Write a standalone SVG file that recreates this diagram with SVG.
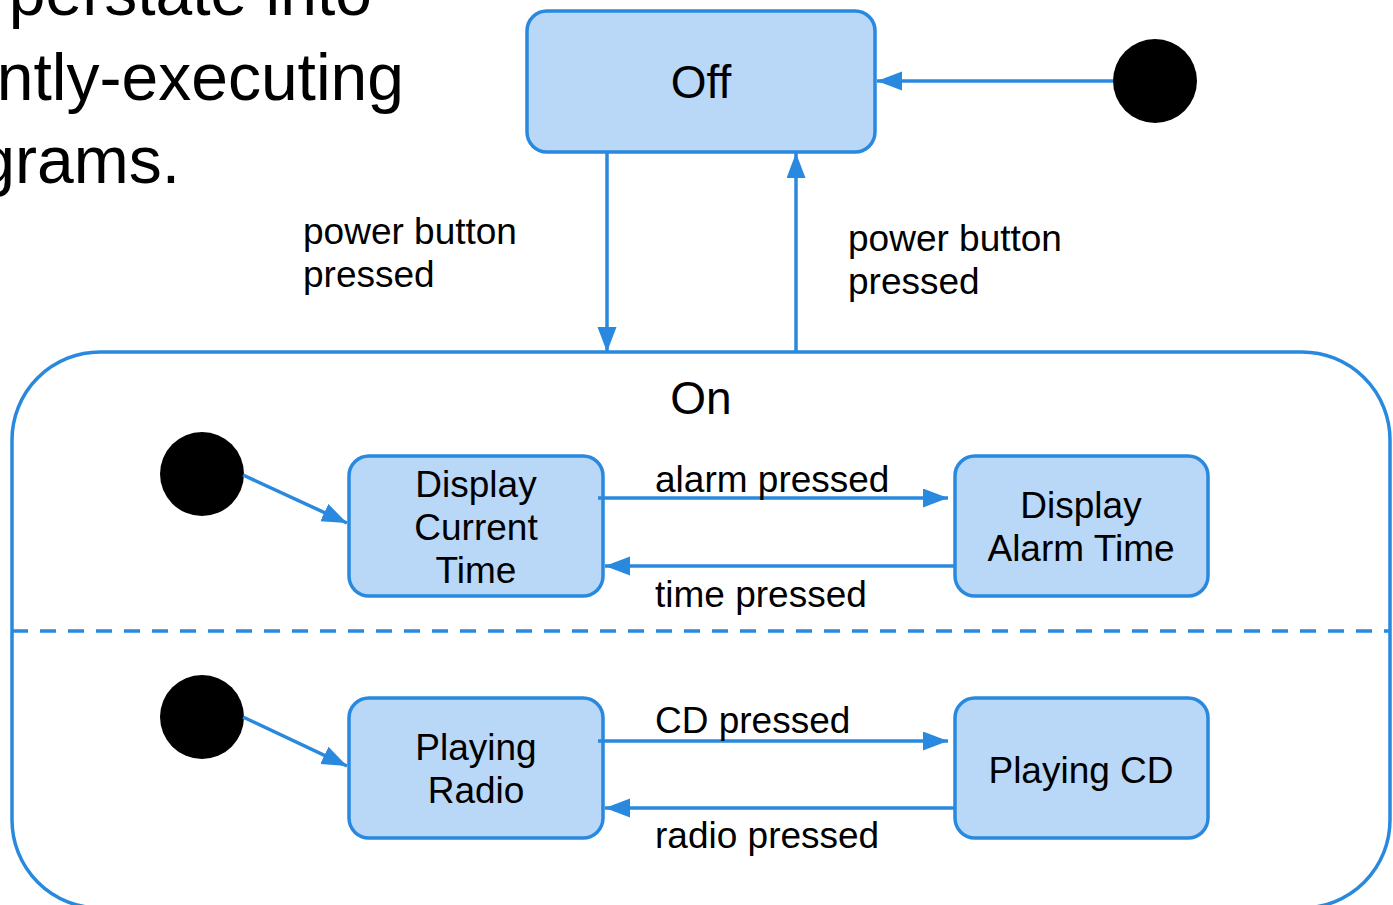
<svg xmlns="http://www.w3.org/2000/svg" width="1393" height="905" viewBox="0 0 1393 905">
<defs>
<style>
.st{fill:#b9d7f6;stroke:#2889de;stroke-width:3.5}
.init{fill:#000}
.edge{fill:none;stroke:#2889de;stroke-width:3.5}
.t{font-family:"Liberation Sans",Arial,sans-serif;fill:#000}
.lbl{font-size:37px}
.nm{font-size:37px;text-anchor:middle}
</style>
<marker id="ah" markerUnits="userSpaceOnUse" markerWidth="26" markerHeight="20" refX="25" refY="9.5" orient="auto">
<path d="M0,0 L25,9.5 L0,19 z" fill="#2889de"/>
</marker>
</defs>
<g id="bg-text" class="t" style="font-size:66px" text-anchor="end">
<text x="372" y="15">perstate into</text>
<text x="404" y="100">ntly-executing</text>
<text x="180" y="183">grams.</text>
</g>
<g id="On">
<rect x="12" y="352" width="1378" height="556" rx="88" ry="88" fill="#fff" stroke="#2889de" stroke-width="3.5"/>
<line x1="12" y1="631" x2="1390" y2="631" stroke="#2889de" stroke-width="3.5" stroke-dasharray="16 12"/>
<text class="t" x="701" y="414" style="font-size:46px" text-anchor="middle">On</text>
</g>
<g id="Off">
<rect class="st" x="527" y="11" width="348" height="141" rx="20"/>
<text class="t" x="701" y="98" style="font-size:46px" text-anchor="middle">Off</text>
</g>
<g id="init-top"><circle class="init" cx="1155" cy="81" r="42"/></g>
<g id="init-1"><circle class="init" cx="202" cy="474" r="42"/></g>
<g id="init-2"><circle class="init" cx="202" cy="717" r="42"/></g>
<g id="DisplayCurrentTime">
<rect class="st" x="349" y="456" width="254" height="140" rx="20"/>
<text class="t nm" x="476" y="497">Display</text>
<text class="t nm" x="476" y="540">Current</text>
<text class="t nm" x="476" y="583">Time</text>
</g>
<g id="DisplayAlarmTime">
<rect class="st" x="955" y="456" width="253" height="140" rx="20"/>
<text class="t nm" x="1081" y="518">Display</text>
<text class="t nm" x="1081" y="561">Alarm Time</text>
</g>
<g id="PlayingRadio">
<rect class="st" x="349" y="698" width="254" height="140" rx="20"/>
<text class="t nm" x="476" y="760">Playing</text>
<text class="t nm" x="476" y="803">Radio</text>
</g>
<g id="PlayingCD">
<rect class="st" x="955" y="698" width="253" height="140" rx="20"/>
<text class="t nm" x="1081" y="783">Playing CD</text>
</g>
<g id="connectors">
<line class="edge" x1="1113" y1="81" x2="877" y2="81" marker-end="url(#ah)"/>
<line class="edge" x1="607" y1="153" x2="607" y2="352" marker-end="url(#ah)"/>
<line class="edge" x1="796" y1="352" x2="796" y2="153" marker-end="url(#ah)"/>
<line class="edge" x1="243" y1="475" x2="347" y2="523" marker-end="url(#ah)"/>
<line class="edge" x1="243" y1="717" x2="347" y2="766" marker-end="url(#ah)"/>
<line class="edge" x1="598" y1="498" x2="948" y2="498" marker-end="url(#ah)"/>
<line class="edge" x1="955" y1="566" x2="605" y2="566" marker-end="url(#ah)"/>
<line class="edge" x1="598" y1="741" x2="948" y2="741" marker-end="url(#ah)"/>
<line class="edge" x1="955" y1="808" x2="605" y2="808" marker-end="url(#ah)"/>
<g class="t lbl">
<text x="303" y="244">power button</text>
<text x="303" y="287">pressed</text>
<text x="848" y="251">power button</text>
<text x="848" y="294">pressed</text>
<text x="655" y="492">alarm pressed</text>
<text x="655" y="607">time pressed</text>
<text x="655" y="733">CD pressed</text>
<text x="655" y="848">radio pressed</text>
</g>
</g>
</svg>
